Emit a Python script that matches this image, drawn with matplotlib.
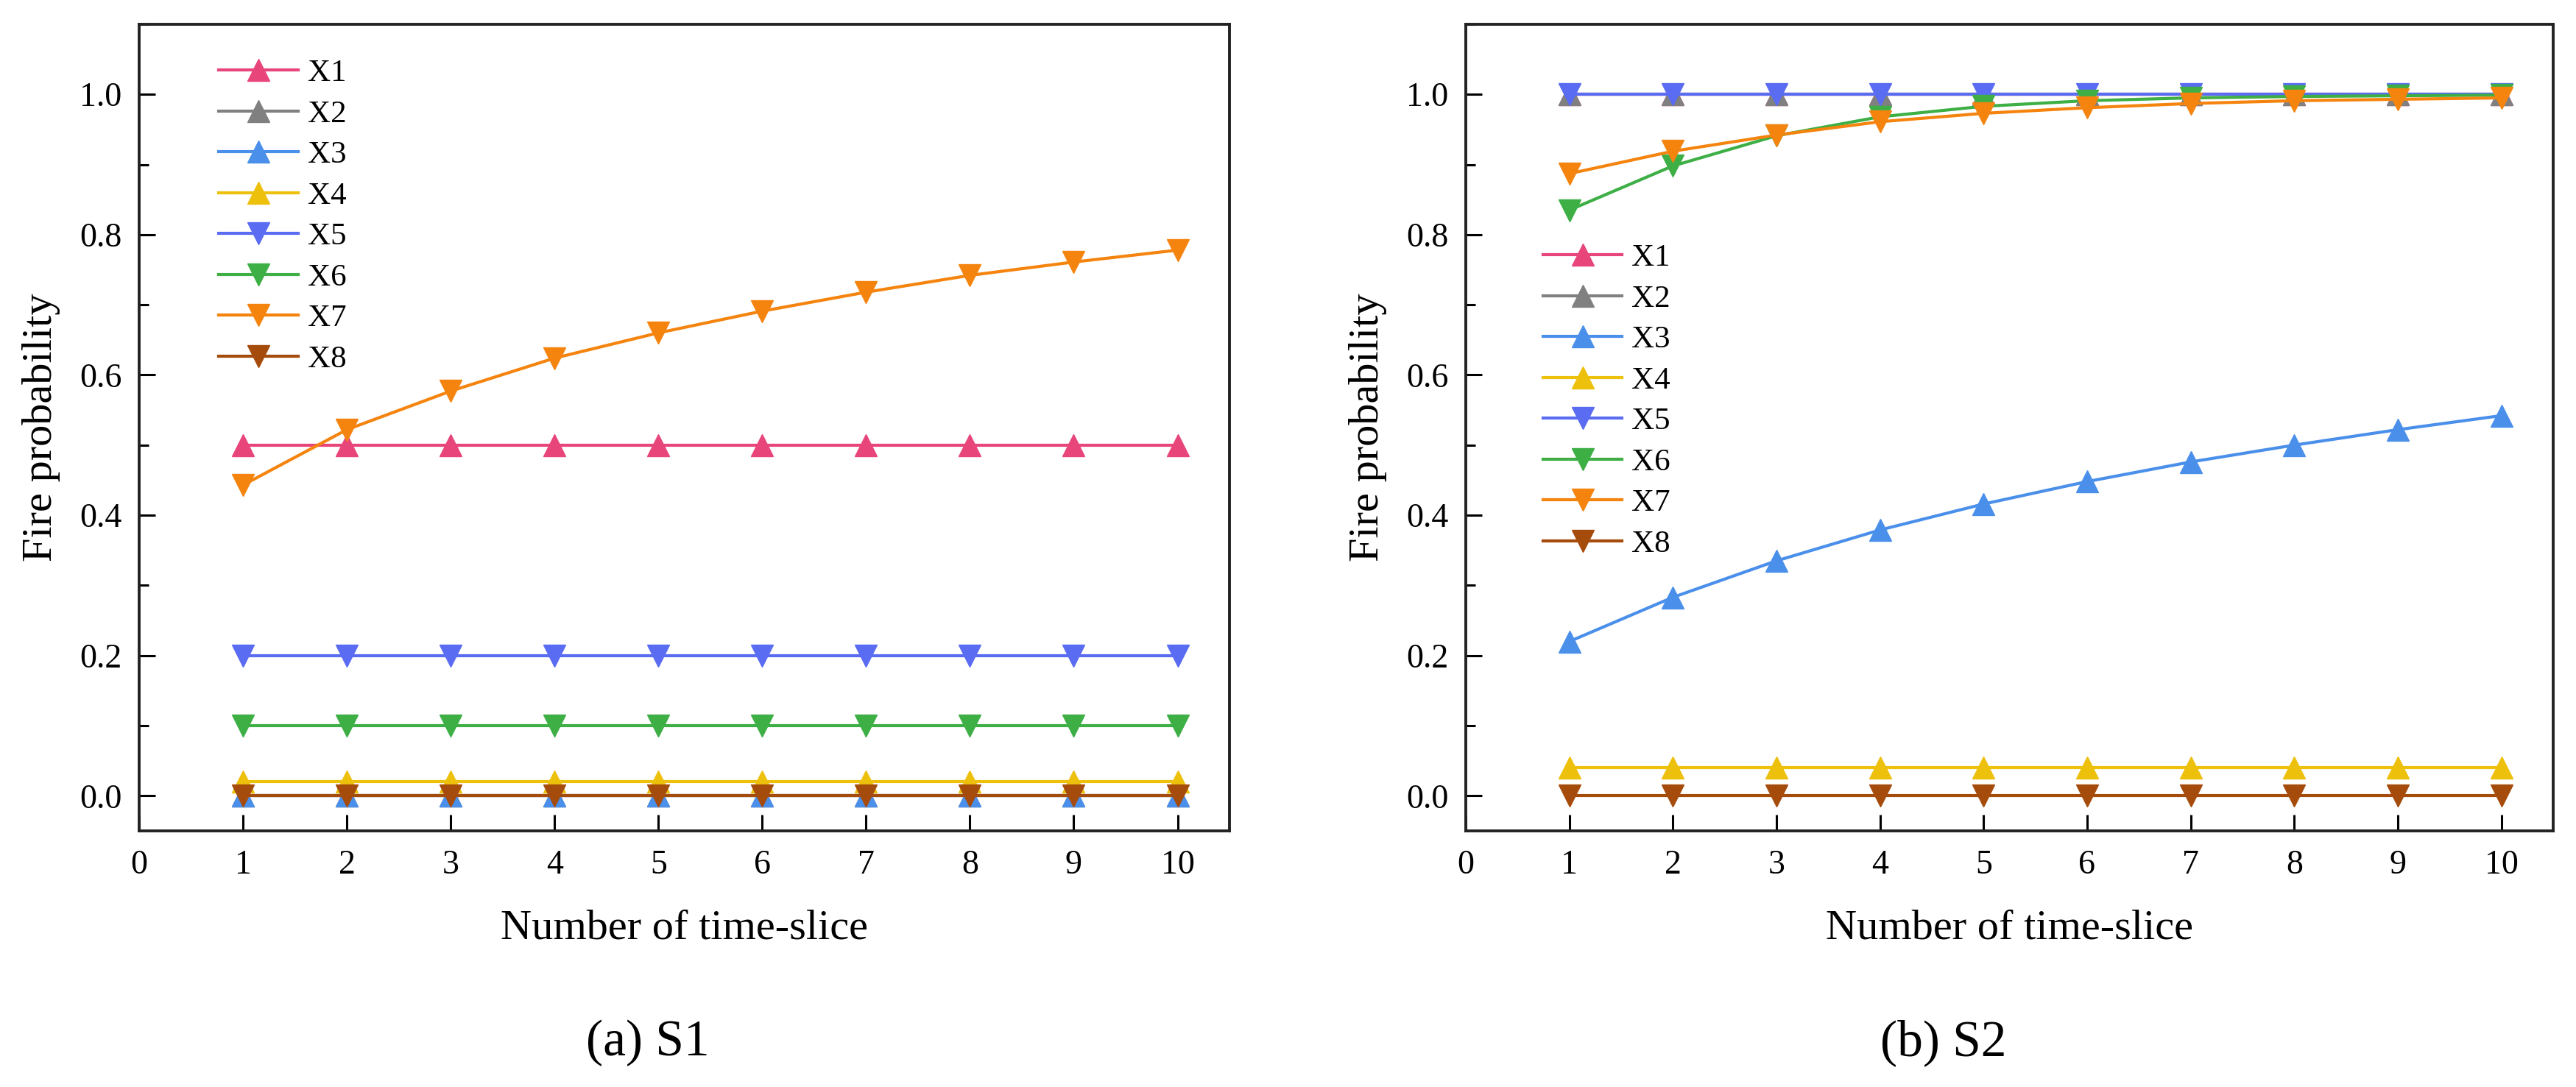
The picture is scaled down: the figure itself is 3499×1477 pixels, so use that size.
import numpy as np
import matplotlib
matplotlib.use('Agg')
import matplotlib.pyplot as plt
from matplotlib.ticker import MultipleLocator

plt.rcParams['font.family'] = ['Liberation Serif', 'DejaVu Serif']

time_slice = [1, 2, 3, 4, 5, 6, 7, 8, 9, 10]
names = ['X1', 'X2', 'X3', 'X4', 'X5', 'X6', 'X7', 'X8']
colors = ['#E8457A', '#808080', '#4A8FEA', '#EDC00C', '#5A6CF2', '#3DAF45', '#F5840F', '#A54B0B']
markers = ['^', '^', '^', '^', 'v', 'v', 'v', 'v']

# scenario S1
s1_x1 = [0.5] * 10
s1_x2 = [0.0] * 10
s1_x3 = [0.0] * 10
s1_x4 = [0.02] * 10
s1_x5 = [0.2] * 10
s1_x6 = [0.1] * 10
s1_x7 = [0.443, 0.522, 0.577, 0.624, 0.660, 0.691, 0.718, 0.742, 0.761, 0.778]
s1_x8 = [0.0] * 10

# scenario S2
s2_x1 = [1.0] * 10
s2_x2 = [1.0] * 10
s2_x3 = [0.220, 0.283, 0.335, 0.379, 0.416, 0.448, 0.476, 0.500, 0.522, 0.542]
s2_x4 = [0.04] * 10
s2_x5 = [1.0] * 10
s2_x6 = [0.835, 0.898, 0.941, 0.968, 0.983, 0.991, 0.995, 0.997, 0.998, 0.999]
s2_x7 = [0.887, 0.919, 0.942, 0.961, 0.973, 0.981, 0.987, 0.991, 0.993, 0.995]
s2_x8 = [0.0] * 10

S1 = [s1_x1, s1_x2, s1_x3, s1_x4, s1_x5, s1_x6, s1_x7, s1_x8]
S2 = [s2_x1, s2_x2, s2_x3, s2_x4, s2_x5, s2_x6, s2_x7, s2_x8]

xticks = np.arange(0, 11, 1)
yticks = np.arange(0, 1.01, 0.2)

fig = plt.figure(figsize=(34.99, 14.77), dpi=100)
fig.patch.set_facecolor('white')
ax1 = fig.add_axes([0.054, 0.2356, 0.4233, 0.7421])
ax2 = fig.add_axes([0.569, 0.2356, 0.4221, 0.7421])

def draw(ax, data, leg_anchor):
    for vals, nm, c, m in zip(data, names, colors, markers):
        ax.plot(time_slice, vals, color=c, marker=m, markersize=22, lw=3,
                label=nm, clip_on=False)
    ax.set_xlim(0, 10.5)
    ax.set_ylim(-0.05, 1.1)
    ax.set_xticks(xticks)
    ax.set_yticks(yticks)
    ax.set_yticklabels(['%.1f' % v for v in yticks])
    ax.yaxis.set_minor_locator(MultipleLocator(0.1))
    ax.tick_params(axis='both', which='major', direction='in', length=16, width=2.2,
                   labelsize=33, top=False, right=False)
    ax.tick_params(axis='y', which='minor', direction='in', length=9, width=2.2, right=False)
    ax.tick_params(axis='x', pad=18)
    ax.tick_params(axis='y', pad=17)
    for sp in ax.spines.values():
        sp.set_linewidth(2.8)
        sp.set_color('#222222')
    ax.set_xlabel('Number of time-slice', fontsize=42)
    ax.xaxis.label.set_va('center')
    ax.xaxis.set_label_coords(0.5, -0.121)
    ax.set_ylabel('Fire probability', fontsize=42)
    ax.yaxis.label.set_va('center')
    ax.yaxis.set_label_coords(-0.09, 0.5)
    ax.legend(loc='upper left', bbox_to_anchor=leg_anchor, frameon=False, fontsize=31,
              handlelength=2.5, handletextpad=0.3, labelspacing=0.38,
              borderpad=0, borderaxespad=0, numpoints=1)

draw(ax1, S1, (0.073, 0.957))
draw(ax2, S2, (0.071, 0.728))

fig.text(0.2515, 0.0406, '(a) S1', fontsize=50, ha='center', va='center')
fig.text(0.7545, 0.0406, '(b) S2', fontsize=50, ha='center', va='center')

fig.savefig('out.png', dpi=100, facecolor='white')
